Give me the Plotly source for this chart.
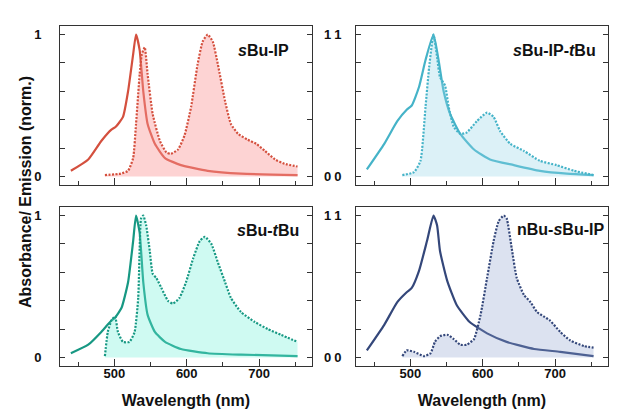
import plotly.graph_objects as go

# ---------------- data ----------------
panel_names = ["<i>s</i>Bu-IP", "<i>s</i>Bu-IP-<i>t</i>Bu", "<i>s</i>Bu-<i>t</i>Bu", "nBu-<i>s</i>Bu-IP"]

sbuip_abs_x = [440, 464, 482, 496, 502, 512, 519, 526, 530, 535, 540, 546, 556, 570, 592, 629, 675, 753]
sbuip_abs_y = [0.04, 0.12, 0.25, 0.33, 0.35, 0.42, 0.60, 0.86, 1.00, 0.89, 0.60, 0.37, 0.23, 0.13, 0.08, 0.04, 0.02, 0.01]
sbuip_em_x = [487, 509, 519, 526, 530, 535, 538, 542, 546, 553, 563, 572, 578, 588, 597, 606, 615, 622, 629,
              636, 643, 653, 661, 671, 684, 696, 708, 722, 735, 753]
sbuip_em_y = [0.01, 0.02, 0.04, 0.13, 0.37, 0.72, 0.86, 0.91, 0.72, 0.44, 0.25, 0.17, 0.16, 0.19, 0.29, 0.49, 0.79,
              0.95, 1.00, 0.95, 0.79, 0.53, 0.37, 0.30, 0.26, 0.23, 0.18, 0.12, 0.09, 0.07]

sbuiptbu_abs_x = [440, 464, 482, 495, 502, 512, 521, 532, 539, 546, 555, 569, 588, 610, 643, 679, 716, 753]
sbuiptbu_abs_y = [0.05, 0.23, 0.39, 0.47, 0.50, 0.63, 0.82, 1.00, 0.82, 0.60, 0.44, 0.30, 0.19, 0.12, 0.08, 0.04, 0.02, 0.01]
sbuiptbu_em_x = [489, 505, 514, 521, 526, 532, 537, 541, 548, 553, 560, 569, 578, 592, 606, 615, 624, 638, 657,
                 679, 702, 726, 753]
sbuiptbu_em_y = [0.01, 0.03, 0.11, 0.49, 0.77, 1.00, 0.84, 0.70, 0.64, 0.49, 0.35, 0.30, 0.31, 0.39, 0.45, 0.42,
                 0.32, 0.23, 0.18, 0.11, 0.08, 0.04, 0.01]

sbutbu_abs_x = [440, 464, 482, 496, 501, 510, 519, 526, 530, 535, 540, 546, 556, 570, 592, 629, 675, 753]
sbutbu_abs_y = [0.03, 0.09, 0.18, 0.26, 0.28, 0.35, 0.53, 0.82, 1.00, 0.88, 0.53, 0.30, 0.18, 0.11, 0.06, 0.03, 0.02, 0.01]
sbutbu_em_x = [487, 491, 496, 501, 505, 512, 521, 528, 533, 535, 537, 540, 544, 549, 553, 558, 565, 574, 581, 590,
               599, 609, 618, 625, 634, 643, 653, 661, 675, 694, 712, 730, 753]
sbutbu_em_y = [0.01, 0.18, 0.26, 0.29, 0.18, 0.11, 0.11, 0.18, 0.42, 0.77, 0.98, 1.00, 0.93, 0.75, 0.59, 0.56, 0.49,
               0.40, 0.38, 0.42, 0.53, 0.70, 0.82, 0.85, 0.80, 0.67, 0.53, 0.42, 0.32, 0.25, 0.20, 0.16, 0.11]

nbu_abs_x = [440, 464, 482, 495, 502, 512, 523, 532, 537, 541, 551, 564, 582, 606, 633, 671, 707, 753]
nbu_abs_y = [0.05, 0.23, 0.39, 0.46, 0.49, 0.61, 0.82, 1.00, 0.93, 0.75, 0.54, 0.37, 0.25, 0.17, 0.11, 0.06, 0.04, 0.01]
nbu_em_x = [489, 495, 505, 519, 528, 534, 541, 551, 560, 569, 578, 588, 597, 606, 615, 622, 629, 633, 640, 647,
            657, 666, 675, 684, 693, 707, 721, 740, 753]
nbu_em_y = [0.01, 0.05, 0.04, 0.01, 0.03, 0.11, 0.15, 0.16, 0.13, 0.09, 0.09, 0.13, 0.30, 0.56, 0.82, 0.96, 1.00,
            0.98, 0.77, 0.56, 0.44, 0.39, 0.32, 0.29, 0.26, 0.18, 0.12, 0.08, 0.07]

y_tickvals = [0, 0.2, 0.4, 0.6, 0.8, 1.0]
y_ticktext = ["0", "", "", "", "", "1"]
edge_label_vals = [0, 1]
edge_label_text = ["0", "1"]
x_tickvals = [500, 600, 700]
x_ticktext = ["500", "600", "700"]

line_colors = ["#d4503e", "#45b3c8", "#179883", "#34477a"]
fill_colors = ["rgba(250,150,150,0.42)", "rgba(150,212,230,0.33)", "rgba(110,240,215,0.33)", "rgba(140,158,205,0.30)"]

panels = [
    (sbuip_abs_x, sbuip_abs_y, sbuip_em_x, sbuip_em_y),
    (sbuiptbu_abs_x, sbuiptbu_abs_y, sbuiptbu_em_x, sbuiptbu_em_y),
    (sbutbu_abs_x, sbutbu_abs_y, sbutbu_em_x, sbutbu_em_y),
    (nbu_abs_x, nbu_abs_y, nbu_em_x, nbu_em_y),
]

W, H = 617, 410
xdoms = [[52 / W, 304 / W], [348 / W, 600 / W]]
ydoms = [[1 - 177 / H, 1 - 18 / H], [1 - 358 / H, 1 - 199 / H]]
left_standoff = [15, 11]
right_gap = [10, 8]

FONT = "Liberation Sans, Arial, sans-serif"
AX = "#333333"
TICKFONT = dict(family=FONT, size=13, color="#111111", weight="bold")

fig = go.Figure()
layout = dict(
    width=W, height=H, margin=dict(l=0, r=0, t=0, b=0),
    paper_bgcolor="white", plot_bgcolor="white", showlegend=False,
    font=dict(family=FONT, color="#111111"),
)
annotations = []

for i, (ax_, ay_, ex_, ey_) in enumerate(panels):
    n = i + 1
    xs = "x" if n == 1 else f"x{n}"
    ys = "y" if n == 1 else f"y{n}"
    fig.add_trace(go.Scatter(x=ax_, y=ay_, mode="lines", xaxis=xs, yaxis=ys,
                             line=dict(color=line_colors[i], width=2.2, shape="spline", smoothing=0.5),
                             hoverinfo="skip"))
    fig.add_trace(go.Scatter(x=ex_, y=ey_, mode="lines", xaxis=xs, yaxis=ys, fill="tozeroy",
                             fillcolor=fill_colors[i],
                             line=dict(color=line_colors[i], width=2.2, dash="2px,1.5px", shape="spline",
                                       smoothing=0.5),
                             hoverinfo="skip"))

    col = i % 2
    row = i // 2
    bottom = row == 1
    xkey = "xaxis" if n == 1 else f"xaxis{n}"
    ykey = "yaxis" if n == 1 else f"yaxis{n}"
    layout[xkey] = dict(
        domain=xdoms[col], anchor=ys, range=[425, 773],
        showgrid=False, zeroline=False, showline=True, linecolor=AX, linewidth=1, mirror=True,
        ticks="inside", ticklen=7, tickwidth=1, tickcolor=AX,
        tickvals=x_tickvals, ticktext=x_ticktext, showticklabels=bottom,
        tickfont=TICKFONT, ticklabelstandoff=-5,
        minor=dict(tickvals=[450, 550, 650, 750], ticks="inside", ticklen=4, tickcolor=AX, tickwidth=1),
        title=dict(text="Wavelength (nm)" if bottom else "",
                   font=dict(family=FONT, size=16, color="#111111", weight="bold"), standoff=15),
    )
    layout[ykey] = dict(
        domain=ydoms[row], anchor=xs, range=[-0.06, 1.06],
        showgrid=False, zeroline=False, showline=True, linecolor=AX, linewidth=1, mirror="ticks",
        ticks="inside", ticklen=5, tickwidth=1, tickcolor=AX,
        tickvals=y_tickvals, ticktext=y_ticktext,
        tickfont=TICKFONT, ticklabelstandoff=left_standoff[col],
    )
    # right-side "0"/"1" labels of each panel
    for v, t in zip(edge_label_vals, edge_label_text):
        annotations.append(dict(text=t, x=(xdoms[col][1] * W + right_gap[col]) / W, y=v, xref="paper", yref=ys,
                                xanchor="left", yanchor="middle", showarrow=False, font=TICKFONT))

label_pos = [(283 / W, 1 - 43 / H), (590 / W, 1 - 43 / H), (293 / W, 1 - 222 / H), (598 / W, 1 - 221 / H)]
for i, name in enumerate(panel_names):
    annotations.append(dict(text=name, x=label_pos[i][0], y=label_pos[i][1], xref="paper", yref="paper",
                            xanchor="right", yanchor="middle", showarrow=False,
                            font=dict(family=FONT, size=16, color="#111111", weight="bold")))
annotations.append(dict(text="Absorbance/ Emission (norm.)", x=18 / W, y=1 - 184 / H, xref="paper", yref="paper",
                        xanchor="center", yanchor="middle", textangle=-90, showarrow=False,
                        font=dict(family=FONT, size=16, color="#111111", weight="bold")))
layout["annotations"] = annotations

fig.update_layout(**layout)
fig.write_html("out.html")
